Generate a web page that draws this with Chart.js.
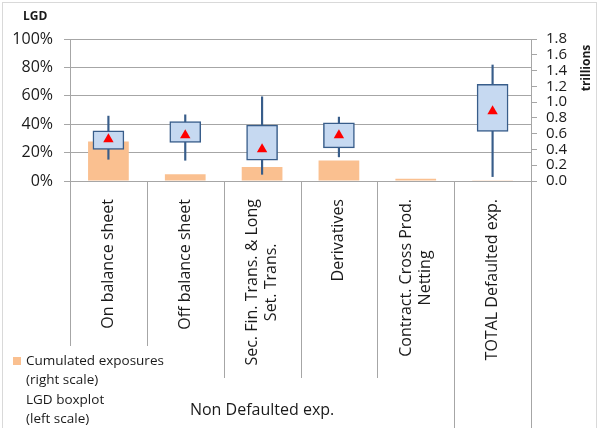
<!DOCTYPE html>
<html>
<head>
<meta charset="utf-8">
<script src="https://cdn.jsdelivr.net/npm/chart.js@4.4.1/dist/chart.umd.min.js"></script>
<style>
  html, body { margin: 0; padding: 0; background: #fff; }
</style>
</head>
<body>
<canvas id="myChart" width="599" height="428"></canvas>
<script>
// categories (multi-line labels)
var categories = [
  ['On balance sheet'],
  ['Off balance sheet'],
  ['Sec. Fin. Trans. & Long', 'Set. Trans.'],
  ['Derivatives'],
  ['Contract. Cross Prod.', 'Netting'],
  ['TOTAL Defaulted exp.']
];
var groupLabel = 'Non Defaulted exp.';
var groupSize = 5;

// cumulated exposures, trillions (right scale)
var exposures = [0.50, 0.085, 0.178, 0.26, 0.03, 0.008];

// LGD boxplot, % (left scale)
var lgdMin  = [15.3, 14.6,  4.7, 17.0, null,  3.1];
var lgdQ1   = [22.2, 27.1, 14.6, 23.3, null, 34.9];
var lgdQ3   = [35.3, 41.9, 39.3, 41.0, null, 68.0];
var lgdMax  = [45.7, 46.6, 59.3, 45.0, null, 81.7];
var lgdMean = [29.4, 32.2, 22.4, 32.2, null, 49.2];

var leftMax = 100, leftStep = 20;
var rightMax = 1.8, rightStep = 0.2;

var FONT = '"Open Sans", sans-serif';
var GRID = '#A6A6A6';
var TEXT = '#1a1a1a';

var boxes = [], whiskers = [];
for (let i = 0; i < categories.length; i++) {
  boxes.push(lgdQ1[i] == null ? null : [lgdQ1[i], lgdQ3[i]]);
  whiskers.push(lgdMin[i] == null ? null : [lgdMin[i], lgdMax[i]]);
}

var decor = {
  id: 'decor',
  afterDraw: function (chart) {
    var ctx = chart.ctx, xs = chart.scales.x, a = chart.chartArea;
    var n = categories.length, w = xs.width / n;
    ctx.save();

    // chart border
    ctx.strokeStyle = '#D9D9D9';
    ctx.lineWidth = 1;
    ctx.strokeRect(2.5, 2.5, 594, 440);

    // category separators
    ctx.strokeStyle = GRID;
    for (let i = 0; i <= n; i++) {
      var px = Math.round(xs.left + i * w) + 0.5;
      var bottom = i <= 1 ? 346 : (i < groupSize ? 378 : 428);
      ctx.beginPath();
      ctx.moveTo(px, a.bottom);
      ctx.lineTo(px, bottom);
      ctx.stroke();
    }

    // category labels, rotated
    ctx.fillStyle = TEXT;
    ctx.font = '16px ' + FONT;
    ctx.textBaseline = 'middle';
    ctx.textAlign = 'center';
    var lh = 19;
    for (let i = 0; i < n; i++) {
      var lines = categories[i];
      var maxW = 0;
      lines.forEach(function (t) { maxW = Math.max(maxW, ctx.measureText(t).width); });
      var cx = xs.getPixelForValue(i);
      ctx.save();
      ctx.translate(cx, a.bottom + 18);
      ctx.rotate(-Math.PI / 2);
      lines.forEach(function (t, k) {
        ctx.fillText(t, -maxW / 2, (k - (lines.length - 1) / 2) * lh);
      });
      ctx.restore();
    }

    // group label
    ctx.font = '16px ' + FONT;
    ctx.fillText(groupLabel, (xs.left + (xs.left + groupSize * w)) / 2, 410);

    // axis titles
    ctx.font = 'bold 12px ' + FONT;
    ctx.textAlign = 'left';
    ctx.fillText('LGD', 23, 17);
    ctx.save();
    ctx.translate(587, 68);
    ctx.rotate(-Math.PI / 2);
    ctx.textAlign = 'center';
    ctx.fillText('trillions', 0, 0);
    ctx.restore();

    // legend
    ctx.fillStyle = '#FAC090';
    ctx.fillRect(13, 357, 8, 8);
    ctx.fillStyle = TEXT;
    ctx.font = '13.5px ' + FONT;
    ctx.textAlign = 'left';
    ctx.fillText('Cumulated exposures', 26, 361);
    ctx.fillText('(right scale)', 26, 380);
    ctx.fillText('LGD boxplot', 26, 400);
    ctx.fillText('(left scale)', 26, 419);

    ctx.restore();
  }
};

var ctx = document.getElementById('myChart').getContext('2d');
var myChart = new Chart(ctx, {
  data: {
    labels: categories,
    datasets: [
      {
        type: 'line',
        label: 'Mean LGD',
        data: lgdMean,
        yAxisID: 'y',
        showLine: false,
        pointStyle: 'triangle',
        pointRadius: 6,
        pointBackgroundColor: '#FF0000',
        pointBorderColor: '#FF0000',
        pointBorderWidth: 0,
        order: 1
      },
      {
        type: 'bar',
        label: 'LGD box',
        data: boxes,
        yAxisID: 'y',
        grouped: false,
        barThickness: 31,
        backgroundColor: '#C6D9F1',
        borderColor: '#385D8A',
        borderWidth: 1.5,
        borderSkipped: false,
        order: 2
      },
      {
        type: 'bar',
        label: 'LGD whisker',
        data: whiskers,
        yAxisID: 'y',
        grouped: false,
        barThickness: 1.5,
        backgroundColor: '#385D8A',
        order: 3
      },
      {
        type: 'bar',
        label: 'Cumulated exposures',
        data: exposures,
        yAxisID: 'y1',
        grouped: false,
        categoryPercentage: 1,
        barPercentage: 0.53,
        backgroundColor: '#FAC090',
        order: 4
      }
    ]
  },
  options: {
    responsive: false,
    animation: false,
    layout: { padding: { top: 39, left: 0, right: 0, bottom: 0 } },
    plugins: { legend: { display: false }, tooltip: { enabled: false } },
    scales: {
      x: {
        type: 'category',
        offset: true,
        grid: { display: false },
        border: { display: false },
        ticks: { display: false },
        afterFit: function (s) { s.height = 247; }
      },
      y: {
        position: 'left',
        min: 0,
        max: leftMax,
        ticks: {
          stepSize: leftStep,
          callback: function (v) { return v + '%'; },
          font: { family: FONT, size: 16 },
          color: TEXT,
          padding: 11
        },
        grid: { color: GRID, tickLength: 6 },
        border: { color: GRID },
        afterFit: function (s) { s.width = 70; }
      },
      y1: {
        position: 'right',
        min: 0,
        max: rightMax,
        ticks: {
          stepSize: rightStep,
          autoSkip: false,
          callback: function (v) { return v.toFixed(1); },
          font: { family: FONT, size: 15 },
          color: TEXT,
          padding: 9
        },
        grid: { drawOnChartArea: false, color: GRID, tickLength: 6 },
        border: { color: GRID },
        afterFit: function (s) { s.width = 68; }
      }
    }
  },
  plugins: [decor]
});
</script>
</body>
</html>
